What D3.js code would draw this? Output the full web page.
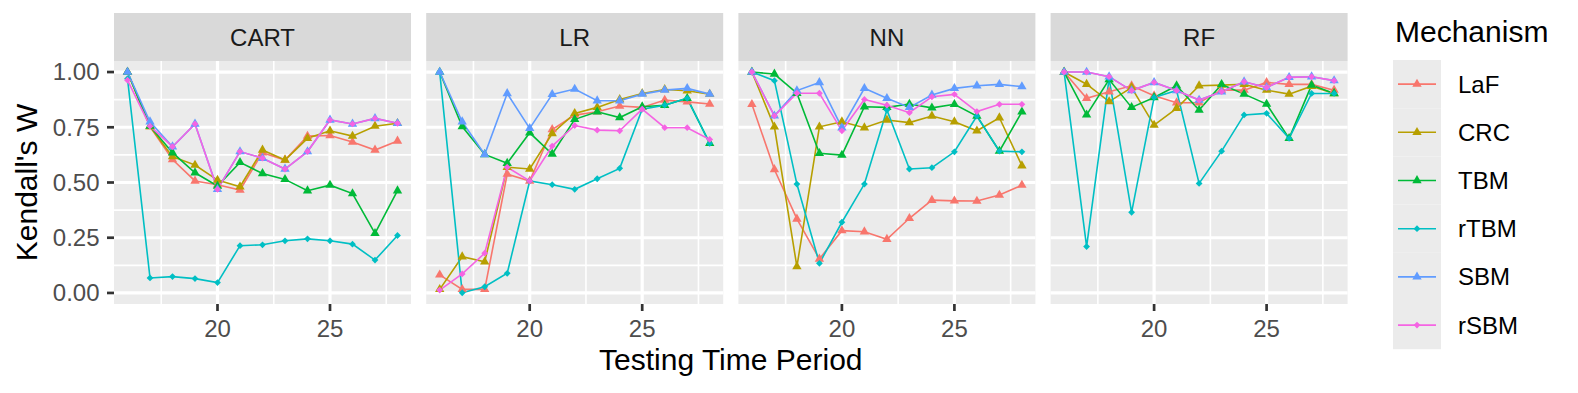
<!DOCTYPE html>
<html>
<head>
<meta charset="utf-8">
<script src="https://cdn.jsdelivr.net/npm/d3@7"></script>
<style>
  body { margin: 0; background: #fff; }
  text { font-family: "Liberation Sans", Arial, Helvetica, sans-serif; }
</style>
</head>
<body>
<div id="plot"></div>
<script>
// chart size
const width = 1578;
const height = 393;

// data
const periods = [16, 17, 18, 19, 20, 21, 22, 23, 24, 25, 26, 27, 28];
const models = ["CART", "LR", "NN", "RF"];
const mechanisms = ["LaF", "CRC", "TBM", "rTBM", "SBM", "rSBM"];
const yTicks = [0, 0.25, 0.5, 0.75, 1];
const xTicks = [20, 25];

// one array per mechanism, in the order of `mechanisms`
const cartValues = [
  [1.00, 0.753, 0.604, 0.507, 0.490, 0.466, 0.635, 0.602, 0.710, 0.713, 0.683, 0.647, 0.688],
  [1.00, 0.753, 0.617, 0.579, 0.511, 0.481, 0.647, 0.602, 0.700, 0.734, 0.710, 0.755, 0.768],
  [1.00, 0.755, 0.635, 0.544, 0.484, 0.591, 0.541, 0.514, 0.463, 0.488, 0.450, 0.270, 0.463],
  [0.97, 0.068, 0.074, 0.065, 0.047, 0.214, 0.218, 0.236, 0.245, 0.236, 0.221, 0.149, 0.260],
  [1.00, 0.775, 0.662, 0.765, 0.469, 0.640, 0.610, 0.561, 0.640, 0.783, 0.765, 0.790, 0.768],
  [0.963, 0.755, 0.662, 0.765, 0.469, 0.640, 0.610, 0.561, 0.640, 0.783, 0.765, 0.790, 0.768]
];
const lrValues = [
  [0.082, 0.016, 0.016, 0.538, 0.507, 0.740, 0.805, 0.820, 0.846, 0.840, 0.873, 0.865, 0.855],
  [0.016, 0.164, 0.141, 0.569, 0.561, 0.722, 0.813, 0.840, 0.876, 0.903, 0.921, 0.915, 0.900],
  [1.00, 0.753, 0.627, 0.587, 0.725, 0.629, 0.786, 0.820, 0.794, 0.843, 0.850, 0.881, 0.677],
  [1.00, 0.001, 0.028, 0.089, 0.507, 0.490, 0.469, 0.517, 0.564, 0.832, 0.850, 0.881, 0.677],
  [1.00, 0.775, 0.627, 0.903, 0.745, 0.899, 0.923, 0.870, 0.870, 0.900, 0.918, 0.926, 0.900],
  [0.013, 0.086, 0.180, 0.569, 0.507, 0.665, 0.758, 0.737, 0.734, 0.832, 0.748, 0.748, 0.695]
];
const nnValues = [
  [0.854, 0.559, 0.335, 0.154, 0.282, 0.277, 0.243, 0.338, 0.420, 0.417, 0.416, 0.443, 0.488],
  [1.00, 0.752, 0.119, 0.752, 0.775, 0.748, 0.783, 0.771, 0.801, 0.775, 0.734, 0.793, 0.576],
  [1.00, 0.991, 0.904, 0.632, 0.624, 0.843, 0.840, 0.855, 0.838, 0.854, 0.801, 0.642, 0.820],
  [1.00, 0.961, 0.493, 0.134, 0.320, 0.493, 0.828, 0.561, 0.567, 0.639, 0.801, 0.642, 0.639],
  [1.00, 0.802, 0.916, 0.953, 0.748, 0.926, 0.881, 0.840, 0.896, 0.926, 0.938, 0.944, 0.934],
  [1.00, 0.802, 0.904, 0.904, 0.734, 0.876, 0.850, 0.816, 0.888, 0.899, 0.821, 0.854, 0.854]
];
const rfValues = [
  [1.00, 0.881, 0.911, 0.938, 0.893, 0.861, 0.861, 0.918, 0.918, 0.953, 0.944, 0.944, 0.918],
  [1.00, 0.945, 0.866, 0.930, 0.760, 0.836, 0.938, 0.941, 0.945, 0.918, 0.900, 0.936, 0.903],
  [1.00, 0.806, 0.966, 0.840, 0.885, 0.938, 0.828, 0.944, 0.900, 0.855, 0.700, 0.941, 0.903],
  [1.00, 0.210, 0.970, 0.365, 0.885, 0.916, 0.496, 0.642, 0.806, 0.813, 0.700, 0.903, 0.903],
  [1.00, 1.00, 0.979, 0.916, 0.953, 0.916, 0.873, 0.911, 0.956, 0.930, 0.976, 0.979, 0.961],
  [1.00, 1.00, 0.979, 0.916, 0.953, 0.916, 0.873, 0.911, 0.956, 0.930, 0.976, 0.979, 0.961]
];
const modelValues = [cartValues, lrValues, nnValues, rfValues];

const colors = ["#F8766D", "#B79F00", "#00BA38", "#00BFC4", "#619CFF", "#F564E3"];
const shapes = ["triangle", "triangle", "triangle", "diamond", "triangle", "diamond"];

// layout
const panelLeft = 114;
const panelTop = 61;
const panelW = 297;
const panelH = 243;
const panelStep = 312.2;
const stripH = 48;

const svg = d3.select("div#plot")
  .append("svg")
  .attr("width", width)
  .attr("height", height);

const x = d3.scaleLinear().domain([15.4, 28.6]).range([0, panelW]);
const y = d3.scaleLinear().domain([-0.05, 1.05]).range([panelH, 0]);

const triangle = d3.symbol().type(d3.symbolTriangle).size(38);
const diamondPath = "M0,-3.4L3.4,0L0,3.4L-3.4,0Z";

const line = d3.line()
  .x(function(d, i) { return x(periods[i]); })
  .y(function(d) { return y(d); });

models.forEach(function(model, m) {
  const g = svg.append("g")
    .attr("transform", "translate(" + (panelLeft + m * panelStep) + "," + panelTop + ")");

  // strip
  g.append("rect")
    .attr("x", 0).attr("y", -stripH)
    .attr("width", panelW).attr("height", stripH)
    .attr("fill", "#D9D9D9");
  g.append("text")
    .attr("x", panelW / 2).attr("y", -15)
    .attr("text-anchor", "middle")
    .attr("font-size", 24)
    .attr("fill", "#1A1A1A")
    .text(model);

  // panel background
  g.append("rect")
    .attr("width", panelW).attr("height", panelH)
    .attr("fill", "#EBEBEB");

  // minor grid
  const yMinor = [0.125, 0.375, 0.625, 0.875];
  const xMinor = [17.5, 22.5, 27.5];
  g.selectAll(".ymin").data(yMinor).enter().append("line")
    .attr("x1", 0).attr("x2", panelW)
    .attr("y1", d => y(d)).attr("y2", d => y(d))
    .attr("stroke", "#fff").attr("stroke-width", 1.6);
  g.selectAll(".xmin").data(xMinor).enter().append("line")
    .attr("y1", 0).attr("y2", panelH)
    .attr("x1", d => x(d)).attr("x2", d => x(d))
    .attr("stroke", "#fff").attr("stroke-width", 1.6);

  // major grid
  g.selectAll(".ymaj").data(yTicks).enter().append("line")
    .attr("x1", 0).attr("x2", panelW)
    .attr("y1", d => y(d)).attr("y2", d => y(d))
    .attr("stroke", "#fff").attr("stroke-width", 3.2);
  g.selectAll(".xmaj").data(xTicks).enter().append("line")
    .attr("y1", 0).attr("y2", panelH)
    .attr("x1", d => x(d)).attr("x2", d => x(d))
    .attr("stroke", "#fff").attr("stroke-width", 3.2);

  // x axis ticks and labels
  g.selectAll(".xtick").data(xTicks).enter().append("line")
    .attr("x1", d => x(d)).attr("x2", d => x(d))
    .attr("y1", panelH).attr("y2", panelH + 7)
    .attr("stroke", "#333333").attr("stroke-width", 2.7);
  g.selectAll(".xlab").data(xTicks).enter().append("text")
    .attr("x", d => x(d)).attr("y", panelH + 32.5)
    .attr("text-anchor", "middle")
    .attr("font-size", 24)
    .attr("fill", "#4D4D4D")
    .text(d => d);

  // lines
  modelValues[m].forEach(function(vals, s) {
    g.append("path")
      .attr("d", line(vals))
      .attr("fill", "none")
      .attr("stroke", colors[s])
      .attr("stroke-width", 1.6);
  });

  // points
  modelValues[m].forEach(function(vals, s) {
    g.selectAll(".pt" + s).data(vals).enter().append("path")
      .attr("transform", (d, i) => "translate(" + x(periods[i]) + "," + y(d) + ")")
      .attr("d", shapes[s] === "triangle" ? triangle() : diamondPath)
      .attr("fill", colors[s]);
  });
});

// y axis
const yAxis = svg.append("g").attr("transform", "translate(" + panelLeft + "," + panelTop + ")");
yAxis.selectAll("line").data(yTicks).enter().append("line")
  .attr("x1", -7).attr("x2", 0)
  .attr("y1", d => y(d)).attr("y2", d => y(d))
  .attr("stroke", "#333333").attr("stroke-width", 2.7);
yAxis.selectAll("text").data(yTicks).enter().append("text")
  .attr("x", -14.5).attr("y", d => y(d))
  .attr("dy", "0.35em")
  .attr("text-anchor", "end")
  .attr("font-size", 24)
  .attr("fill", "#4D4D4D")
  .text(d => d3.format(".2f")(d));

// axis titles
svg.append("text")
  .attr("x", panelLeft + (3 * panelStep + panelW) / 2)
  .attr("y", 370)
  .attr("text-anchor", "middle")
  .attr("font-size", 30)
  .attr("fill", "#000")
  .text("Testing Time Period");

svg.append("text")
  .attr("transform", "translate(37," + (panelTop + panelH / 2) + ") rotate(-90)")
  .attr("text-anchor", "middle")
  .attr("font-size", 30)
  .attr("fill", "#000")
  .text("Kendall's W");

// legend
const legend = svg.append("g").attr("transform", "translate(1393,60)");
const keyH = 48.2;
svg.append("text")
  .attr("x", 1395).attr("y", 41.7)
  .attr("font-size", 30)
  .attr("fill", "#000")
  .text("Mechanism");

mechanisms.forEach(function(name, s) {
  const k = legend.append("g").attr("transform", "translate(0," + (s * keyH) + ")");
  k.append("rect")
    .attr("width", 48).attr("height", keyH)
    .attr("fill", "#EBEBEB");
  k.append("line")
    .attr("x1", 5).attr("x2", 43)
    .attr("y1", keyH / 2).attr("y2", keyH / 2)
    .attr("stroke", colors[s]).attr("stroke-width", 1.6);
  k.append("path")
    .attr("transform", "translate(24," + (keyH / 2) + ")")
    .attr("d", shapes[s] === "triangle" ? triangle() : diamondPath)
    .attr("fill", colors[s]);
  k.append("text")
    .attr("x", 65).attr("y", keyH / 2)
    .attr("dy", "0.35em")
    .attr("font-size", 24)
    .attr("fill", "#000")
    .text(name);
});
</script>
</body>
</html>
